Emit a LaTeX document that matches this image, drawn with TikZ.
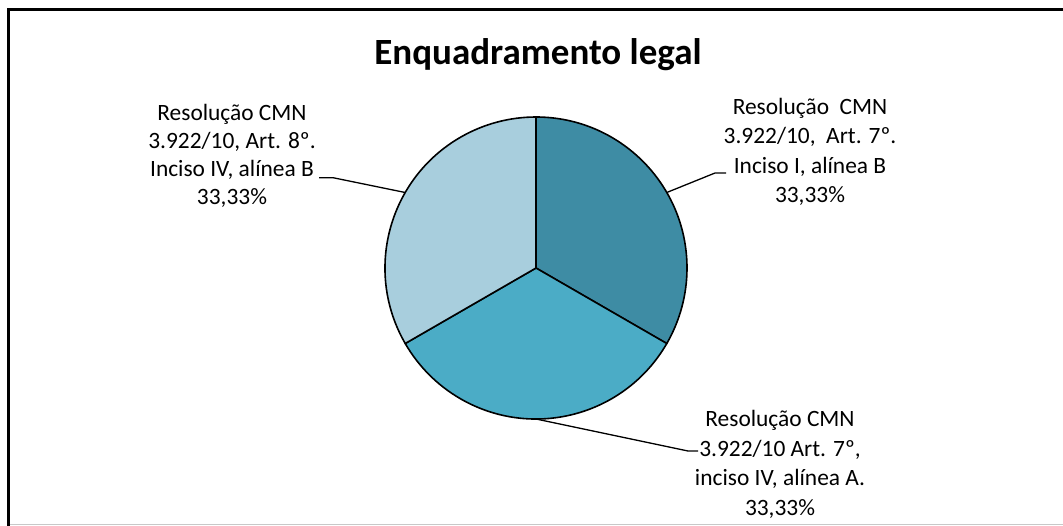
\documentclass[tikz,border=0pt]{standalone}
\usepackage{fontspec}
\setmainfont{Carlito}
\definecolor{sliceA}{RGB}{62,140,164}
\definecolor{sliceB}{RGB}{75,172,198}
\definecolor{sliceC}{RGB}{168,206,221}
\definecolor{edgegray}{RGB}{200,200,200}
\begin{document}
\begin{tikzpicture}[x=1pt,y=-1pt,
  lblL/.style={font=\fontsize{23.4}{27.8}\selectfont, align=center, inner sep=0pt, anchor=base},
  lblR/.style={font=\fontsize{23.4}{29.4}\selectfont, align=center, inner sep=0pt, anchor=base},
  leader/.style={draw=black, line width=1.3pt},
  slice/.style={draw=black, line width=1.6pt, line join=round}]
\useasboundingbox (0,0) rectangle (1063,525);
\fill[white] (0,0) rectangle (1063,525);
\draw[edgegray, line width=1pt] (10,524.3) -- (1063,524.3);
\draw[line width=3pt] (8.8,530) -- (8.8,9.5) -- (1070,9.5);
\node[font=\fontsize{37}{40}\selectfont\bfseries, anchor=base, inner sep=0pt] (title) at (538,64) {Enquadramento legal};
\begin{scope}[shift={(536,268)}, yscale=-1]
  \coordinate (c) at (0,0);
  \filldraw[slice, fill=sliceA] (c) -- (90:151) arc[start angle=90, end angle=-30, radius=151] -- cycle;
  \filldraw[slice, fill=sliceB] (c) -- (-30:151) arc[start angle=-30, end angle=-150, radius=151] -- cycle;
  \filldraw[slice, fill=sliceC] (c) -- (210:151) arc[start angle=210, end angle=90, radius=151] -- cycle;
  \coordinate (pR) at (30:151);
  \coordinate (pB) at (270:151);
  \coordinate (pL) at (150:151);
\end{scope}
\node[lblL] (labL) at (232,204) {Resolução CMN\\3.922/10, Art. 8º.\\Inciso IV, alínea B\\33,33\%};
\node[lblR] (labR) at (810,202.7) {Resolução\ \ CMN\\3.922/10,\ \ Art. 7º.\\Inciso I, alínea B\\33,33\%};
\node[lblR] (labB) at (780,515) {Resolução CMN\\3.922/10 Art. 7º,\\inciso IV, alínea A.\\33,33\%};
\coordinate (kL) at (333,177.7);
\coordinate (eL) at (319,177.7);
\coordinate (kR) at (715,173);
\coordinate (eR) at (726,173);
\coordinate (kB) at (688,451);
\coordinate (eB) at (698,451);
\draw[leader] (pL) -- (kL) -- (eL);
\draw[leader] (pR) -- (kR) -- (eR);
\draw[leader] (pB) -- (kB) -- (eB);
\end{tikzpicture}
\end{document}
